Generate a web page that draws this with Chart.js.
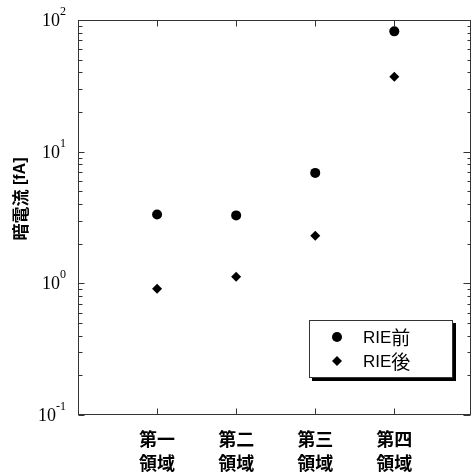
<!DOCTYPE html>
<html>
<head>
<meta charset="utf-8">
<script src="https://cdn.jsdelivr.net/npm/chart.js@4.4.1/dist/chart.umd.min.js"></script>
<style>
  html, body { margin: 0; padding: 0; background: #fff; }
  canvas { display: block; }
</style>
</head>
<body>
<canvas id="mainChart" width="471" height="475"></canvas>
<script>
// regions along the x axis (two-line labels)
const regions = [["第一", "領域"], ["第二", "領域"], ["第三", "領域"], ["第四", "領域"]];
// dark current [fA]
const beforeRIE = [3.33, 3.28, 6.9, 82];
const afterRIE = [0.91, 1.12, 2.3, 37];
const seriesNames = ["RIE前", "RIE後"];
const yTickExponents = [-1, 0, 1, 2];
const yTitle = "暗電流 [fA]";

const CJK = '"Noto Sans CJK JP"';
const SANS = '"Liberation Sans"';
const SERIF = '"Liberation Serif"';

function toPoints(values) {
  return values.map((v, i) => ({ x: i + 1, y: v }));
}

// draw text where latin and CJK glyphs use slightly different sizes
function drawMixed(ctx, text, x, y, latinSize, cjkSize, weight) {
  let cx = x;
  for (const ch of text) {
    const isCjk = ch.charCodeAt(0) > 0x2000;
    ctx.font = `${weight} ${isCjk ? cjkSize : latinSize}px ${isCjk ? CJK : SANS}`;
    ctx.fillText(ch, cx, y);
    cx += ctx.measureText(ch).width;
  }
}

function mixedWidth(ctx, text, latinSize, cjkSize, weight) {
  let w = 0;
  for (const ch of text) {
    const isCjk = ch.charCodeAt(0) > 0x2000;
    ctx.font = `${weight} ${isCjk ? cjkSize : latinSize}px ${isCjk ? CJK : SANS}`;
    w += ctx.measureText(ch).width;
  }
  return w;
}

const framePlugin = {
  id: "frame",
  afterDraw(chart) {
    const { ctx, chartArea: a, scales } = chart;
    const x = scales.x, y = scales.y;
    const L = a.left + 0.5, R = a.right - 0.5, T = a.top + 0.5, B = a.bottom - 0.5;
    ctx.save();
    ctx.strokeStyle = "#333";
    ctx.lineWidth = 1;
    ctx.strokeRect(L, T, R - L, B - T);

    // log ticks on left and right axes, pointing inward
    ctx.beginPath();
    for (const e of yTickExponents) {
      const base = Math.pow(10, e);
      const py = Math.round(y.getPixelForValue(base)) + 0.5;
      ctx.moveTo(L, py); ctx.lineTo(L + 6, py);
      ctx.moveTo(R, py); ctx.lineTo(R - 7, py);
      if (e < 2) {
        for (let k = 2; k <= 9; k++) {
          const my = Math.round(y.getPixelForValue(k * base)) + 0.5;
          ctx.moveTo(L, my); ctx.lineTo(L + 4, my);
          ctx.moveTo(R, my); ctx.lineTo(R - 3, my);
        }
      }
    }
    // category ticks on bottom and top
    regions.forEach((_, i) => {
      const px = Math.round(x.getPixelForValue(i + 1)) + 0.5;
      ctx.moveTo(px, B); ctx.lineTo(px, B - 6);
      ctx.moveTo(px, T); ctx.lineTo(px, T + 6);
    });
    ctx.stroke();

    // 10^n tick labels
    ctx.fillStyle = "#000";
    ctx.textBaseline = "alphabetic";
    for (const e of yTickExponents) {
      const py = y.getPixelForValue(Math.pow(10, e));
      const exp = String(e);
      ctx.font = `12px ${SERIF}`;
      const ew = ctx.measureText(exp).width;
      ctx.textAlign = "left";
      ctx.fillText(exp, 66 - ew, py - 5);
      ctx.font = `18px ${SERIF}`;
      ctx.textAlign = "right";
      ctx.fillText("10", 66 - ew, py + 6);
    }

    // y axis title
    ctx.save();
    ctx.translate(21, 199);
    ctx.rotate(-Math.PI / 2);
    ctx.textAlign = "left";
    ctx.textBaseline = "middle";
    const tw = mixedWidth(ctx, yTitle, 16, 17, "bold");
    drawMixed(ctx, yTitle, -tw / 2, 0, 16, 17, "bold");
    ctx.restore();

    // legend box with shadow
    const bx = 309, by = 320, bw = 144, bh = 58;
    ctx.fillStyle = "#000";
    ctx.fillRect(bx + 3, by + 3, bw, bh);
    ctx.fillStyle = "#fff";
    ctx.fillRect(bx, by, bw, bh);
    ctx.strokeStyle = "#333";
    ctx.strokeRect(bx + 0.5, by + 0.5, bw - 1, bh - 1);
    chart.data.datasets.forEach((ds, i) => {
      const ly = by + 17 + i * 24;
      ctx.fillStyle = "#000";
      ctx.strokeStyle = "#000";
      Chart.helpers.drawPoint(ctx, {
        pointStyle: ds.pointStyle,
        radius: ds.pointRadius,
        borderWidth: 0
      }, bx + 28, ly);
      ctx.textAlign = "left";
      ctx.textBaseline = "middle";
      drawMixed(ctx, ds.label, bx + 54, ly + 1, 17, 19, "normal");
    });
    ctx.restore();
  }
};

const ctx = document.getElementById("mainChart").getContext("2d");

const mainChart = new Chart(ctx, {
  type: "scatter",
  data: {
    datasets: [
      {
        label: seriesNames[0],
        data: toPoints(beforeRIE),
        pointStyle: "circle",
        pointRadius: 5,
        backgroundColor: "#000",
        borderColor: "#000",
        borderWidth: 0,
      },
      {
        label: seriesNames[1],
        data: toPoints(afterRIE),
        pointStyle: "rectRot",
        pointRadius: 5,
        backgroundColor: "#000",
        borderColor: "#000",
        borderWidth: 0,
      },
    ],
  },
  options: {
    responsive: false,
    animation: false,
    devicePixelRatio: 1,
    layout: { autoPadding: false, padding: { top: 20, right: 0, left: 0, bottom: 0 } },
    plugins: {
      legend: { display: false },
      tooltip: { enabled: false },
    },
    scales: {
      x: {
        type: "linear",
        min: 0,
        max: 4.97,
        grid: { display: false, drawTicks: false },
        border: { display: false },
        afterBuildTicks: (s) => {
          s.ticks = regions.map((_, i) => ({ value: i + 1 }));
        },
        afterFit: (s) => {
          s.height = 60;
          s.paddingLeft = 0;
          s.paddingRight = 0;
        },
        ticks: {
          autoSkip: false,
          maxRotation: 0,
          padding: 12,
          color: "#000",
          font: { family: CJK, size: 18, weight: "bold", lineHeight: 1.33 },
          callback: (v) => regions[v - 1] || "",
        },
      },
      y: {
        type: "logarithmic",
        min: 0.1,
        max: 100,
        grid: { display: false, drawTicks: false },
        border: { display: false },
        ticks: { display: false },
        afterFit: (s) => {
          s.width = 78;
          s.paddingTop = 0;
          s.paddingBottom = 0;
        },
      },
    },
  },
  plugins: [framePlugin],
});
</script>
</body>
</html>
